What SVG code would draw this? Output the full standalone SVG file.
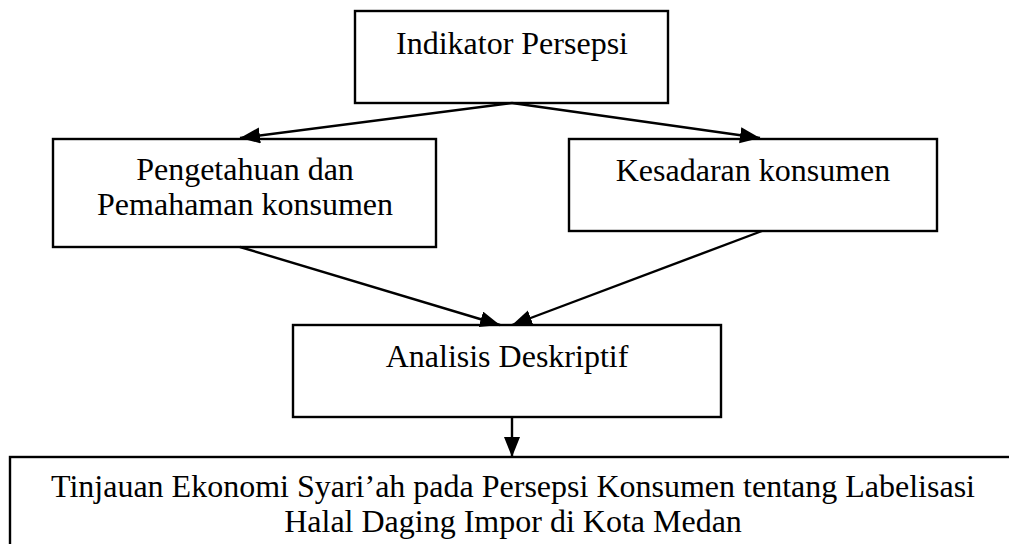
<svg xmlns="http://www.w3.org/2000/svg" width="1009" height="544" viewBox="0 0 1009 544">
<style>
.box{fill:#fff;stroke:#000;stroke-width:2.4}
.t{font-family:"Liberation Serif","Times New Roman",serif;font-size:32px;fill:#000;text-anchor:middle}
.c{stroke:#000;stroke-width:2.4;fill:none}
</style>
<defs>
<marker id="ah" markerUnits="userSpaceOnUse" markerWidth="22" markerHeight="18" refX="20" refY="8" orient="auto">
<path d="M0,0 L20,8 L0,16 z" fill="#000"/>
</marker>
</defs>
<rect width="1009" height="544" fill="#fff"/>
<g id="n1"><rect class="box" x="355" y="11" width="313" height="92"/><text class="t" x="512" y="54">Indikator Persepsi</text></g>
<g id="n2"><rect class="box" x="53" y="139" width="383" height="108"/><text class="t" x="245" y="180">Pengetahuan dan</text><text class="t" x="245" y="215">Pemahaman konsumen</text></g>
<g id="n3"><rect class="box" x="569" y="139" width="368" height="92"/><text class="t" x="753" y="181">Kesadaran konsumen</text></g>
<g id="n4"><rect class="box" x="293" y="325" width="428" height="92"/><text class="t" x="507" y="367">Analisis Deskriptif</text></g>
<g id="n5"><rect class="box" x="10" y="457" width="1006" height="110"/><text class="t" x="513" y="497">Tinjauan Ekonomi Syari’ah pada Persepsi Konsumen tentang Labelisasi</text><text class="t" x="513" y="532">Halal Daging Impor di Kota Medan</text></g>
<g id="connectors">
<line class="c" x1="512" y1="103" x2="240" y2="138" marker-end="url(#ah)"/>
<line class="c" x1="512" y1="103" x2="760" y2="138" marker-end="url(#ah)"/>
<line class="c" x1="240" y1="247" x2="500" y2="325" marker-end="url(#ah)"/>
<line class="c" x1="762" y1="231" x2="512" y2="325" marker-end="url(#ah)"/>
<line class="c" x1="512" y1="417" x2="512" y2="457" marker-end="url(#ah)"/>
</g>
</svg>
